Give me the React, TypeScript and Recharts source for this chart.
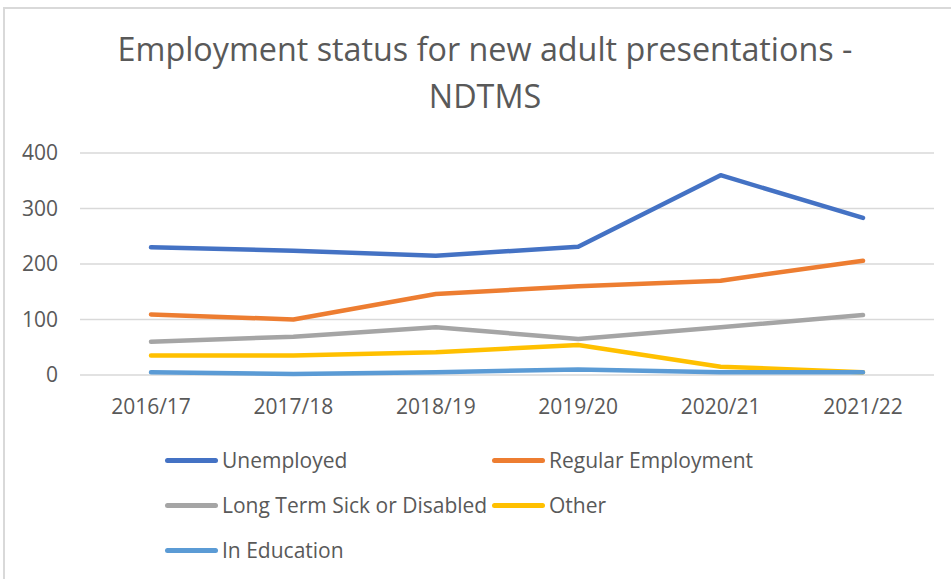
import React from 'react';
import { LineChart, Line, XAxis, YAxis, CartesianGrid } from 'recharts';

const years = ['2016/17', '2017/18', '2018/19', '2019/20', '2020/21', '2021/22'];
const unemployed = [230, 224, 215, 231, 360, 283];
const regularEmployment = [109, 100, 146, 160, 170, 206];
const longTermSick = [60, 69, 86, 65, 86, 108];
const other = [35, 35, 41, 54, 15, 5];
const inEducation = [5, 2, 5, 10, 5, 5];
const yTicks = [0, 100, 200, 300, 400];

const series = [
    { key: 'unemployed', name: 'Unemployed', color: '#4472C4' },
    { key: 'regular', name: 'Regular Employment', color: '#ED7D31' },
    { key: 'sick', name: 'Long Term Sick or Disabled', color: '#A5A5A5' },
    { key: 'other', name: 'Other', color: '#FFC000' },
    { key: 'education', name: 'In Education', color: '#5B9BD5' },
];

const data = years.map((year, i) => ({
    year,
    unemployed: unemployed[i],
    regular: regularEmployment[i],
    sick: longTermSick[i],
    other: other[i],
    education: inEducation[i],
}));

const font = '"Open Sans", sans-serif';
const textColor = '#595959';

function EmploymentLegend() {
    return (
        <div style={{ display: 'grid', gridTemplateColumns: '327px 327px', rowGap: 17, fontFamily: font }}>
            {series.map((s) => (
                <div key={s.key} style={{ display: 'flex', alignItems: 'center', height: 28 }}>
                    <span style={{ display: 'inline-block', width: 53, height: 5, borderRadius: 3, background: s.color }} />
                    <span style={{ marginLeft: 4, fontSize: 21, color: textColor, whiteSpace: 'nowrap' }}>{s.name}</span>
                </div>
            ))}
        </div>
    );
}

export default function App() {
    return (
        <div style={{ position: 'absolute', left: 0, top: 0, width: 951, height: 579, background: '#fff', overflow: 'hidden' }}>
            {/* chart frame, only the top/left edges are visible */}
            <div style={{ position: 'absolute', left: 3, top: 7, width: 980, height: 620, border: '2px solid #d9d9d9' }} />

            {/* Title */}
            <div style={{ position: 'absolute', left: 0, top: 25, width: 970, textAlign: 'center', fontFamily: font, fontSize: 32.3, lineHeight: '47px', color: textColor }}>
                Employment status for new adult presentations -<br />NDTMS
            </div>

            <div style={{ position: 'absolute', left: 0, top: 0 }}>
                <LineChart width={951} height={579} data={data} margin={{ top: 153, right: 17, bottom: 174, left: 0 }}>
                    <CartesianGrid vertical={false} stroke="#d9d9d9" strokeWidth={1.5} />
                    <XAxis
                        dataKey="year"
                        height={30}
                        axisLine={false}
                        tickLine={false}
                        tickMargin={18}
                        padding={{ left: 71, right: 71 }}
                        tick={{ fill: textColor, fontSize: 21, fontFamily: font }}
                    />
                    <YAxis
                        width={80}
                        domain={[0, 400]}
                        ticks={yTicks}
                        axisLine={false}
                        tickLine={false}
                        tickMargin={16}
                        tick={{ fill: textColor, fontSize: 21, fontFamily: font }}
                    />
                    {series.map((s) => (
                        <Line
                            key={s.key}
                            dataKey={s.key}
                            name={s.name}
                            stroke={s.color}
                            strokeWidth={4.5}
                            strokeLinecap="round"
                            strokeLinejoin="round"
                            dot={false}
                            activeDot={false}
                            isAnimationActive={false}
                        />
                    ))}
                </LineChart>
            </div>

            {/* Legend */}
            <div style={{ position: 'absolute', top: 446, left: 165 }}>
                <EmploymentLegend />
            </div>
        </div>
    );
}
